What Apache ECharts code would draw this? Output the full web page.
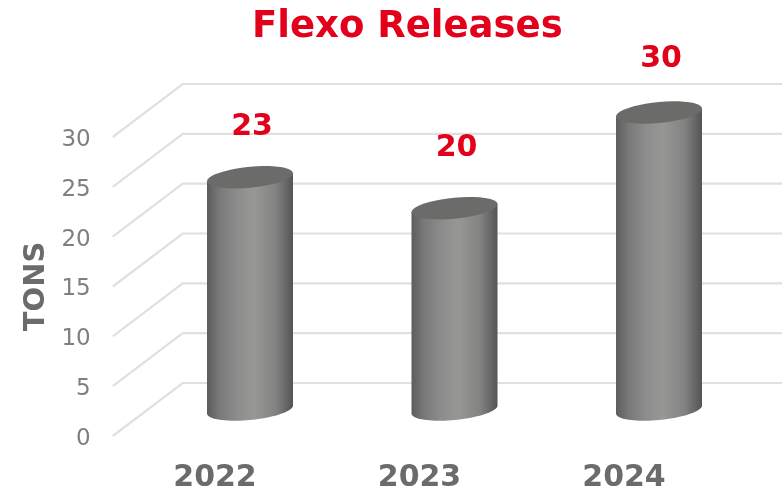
<!DOCTYPE html>
<html>
<head>
<meta charset="utf-8">
<title>Flexo Releases</title>
<style>
html, body { margin: 0; padding: 0; background: #fff; }
#main { width: 782px; height: 493px; }
</style>
<script src="https://cdn.jsdelivr.net/npm/echarts@6/dist/echarts.min.js"></script>
</head>
<body>
<div id="main"></div>
<script>
var categories = ['2022', '2023', '2024'];
var tons = [23.3, 20.2, 29.8];
var shownTons = [23, 20, 30];
var yTicks = [0, 5, 10, 15, 20, 25, 30];

// fake 3d: the wall sits this far behind the axis, bars stand half way
var depthX = 70, depthY = -53;
var barRx = 43, barRy = 10.5, barTilt = 4;
var labelGaps = [50, 60, 53];
var FONT = '"DejaVu Sans", Verdana, sans-serif';

var myChart = echarts.init(document.getElementById('main'));

function ellipsePoints(cx, cy, from, to) {
    var pts = [];
    for (var i = 0; i <= 40; i++) {
        var t = from + (to - from) * i / 40;
        pts.push([cx + barRx * Math.cos(t), cy + barRy * Math.sin(t) - barTilt * Math.cos(t)]);
    }
    return pts;
}

function renderWall(params, api) {
    var p = api.coord([0, api.value(1)]);
    var band = api.size([1, 0])[0];
    var x0 = p[0] - band / 2;
    var style = { stroke: '#e0e0e0', lineWidth: 2.2, fill: null };
    return {
        type: 'polyline',
        shape: { points: [[x0, p[1]], [x0 + depthX, p[1] + depthY], [x0 + band * 3 + depthX, p[1] + depthY]] },
        style: style
    };
}

function renderBar(params, api) {
    var i = api.value(0);
    var base = api.coord([i, 0]);
    var top = api.coord([i, api.value(1)]);
    var cx = base[0] + depthX / 2;
    var by = base[1] + depthY / 2;
    var ty = top[1] + depthY / 2;
    // body: left side, round the near half of the bottom, back up the right side
    var body = ellipsePoints(cx, by, Math.PI, 0);
    body.push([cx + barRx, ty - barTilt]);
    body.push([cx - barRx, ty + barTilt]);
    return {
        type: 'group',
        children: [
            {
                type: 'polygon',
                shape: { points: body },
                style: {
                    fill: new echarts.graphic.LinearGradient(0, 0, 1, 0, [
                        { offset: 0, color: '#5c5c5c' },
                        { offset: 0.14, color: '#787878' },
                        { offset: 0.35, color: '#8d8d8d' },
                        { offset: 0.55, color: '#979795' },
                        { offset: 0.8, color: '#828282' },
                        { offset: 1, color: '#545454' }
                    ])
                }
            },
            {
                type: 'polygon',
                shape: { points: ellipsePoints(cx, ty, 0, Math.PI * 2) },
                style: { fill: '#6b6b69' }
            },
            {
                type: 'text',
                style: {
                    x: cx + 2,
                    y: ty - labelGaps[i],
                    text: String(shownTons[i]),
                    font: 'bold 30px ' + FONT,
                    fill: '#e3001b',
                    align: 'center',
                    verticalAlign: 'middle'
                }
            }
        ]
    };
}

var option = {
    backgroundColor: '#ffffff',
    animation: false,
    title: {
        text: 'Flexo Releases',
        left: 247,
        top: 4,
        textStyle: { color: '#e3001b', fontFamily: FONT, fontWeight: 'bold', fontSize: 37 }
    },
    grid: { left: 112.75, right: 55.75, top: 137, bottom: 54.5 },
    xAxis: {
        type: 'category',
        data: categories,
        axisLine: { show: false },
        axisTick: { show: false },
        axisLabel: { color: '#6b6b6b', fontFamily: FONT, fontWeight: 'bold', fontSize: 30, margin: 27 }
    },
    yAxis: {
        type: 'value',
        min: 0,
        max: 30,
        interval: 5,
        name: 'TONS',
        nameLocation: 'middle',
        nameRotate: 90,
        nameGap: 61,
        nameTextStyle: { color: '#6b6b6b', fontFamily: FONT, fontWeight: 'bold', fontSize: 29 },
        axisLine: { show: false },
        axisTick: { show: false },
        splitLine: { show: false },
        axisLabel: {
            margin: 22,
            formatter: '{t|{value}}',
            rich: { t: { color: '#7f7f7f', fontFamily: FONT, fontSize: 23, padding: [6, 0, 0, 0] } }
        }
    },
    series: [
        {
            type: 'custom',
            silent: true,
            renderItem: renderWall,
            encode: { x: 0, y: 1 },
            data: yTicks.map(function (v) { return [0, v]; }),
            z: 1
        },
        {
            type: 'custom',
            silent: true,
            renderItem: renderBar,
            encode: { x: 0, y: 1 },
            data: tons.map(function (v, i) { return [i, v]; }),
            z: 2
        }
    ]
};
myChart.setOption(option);
</script>
</body>
</html>
